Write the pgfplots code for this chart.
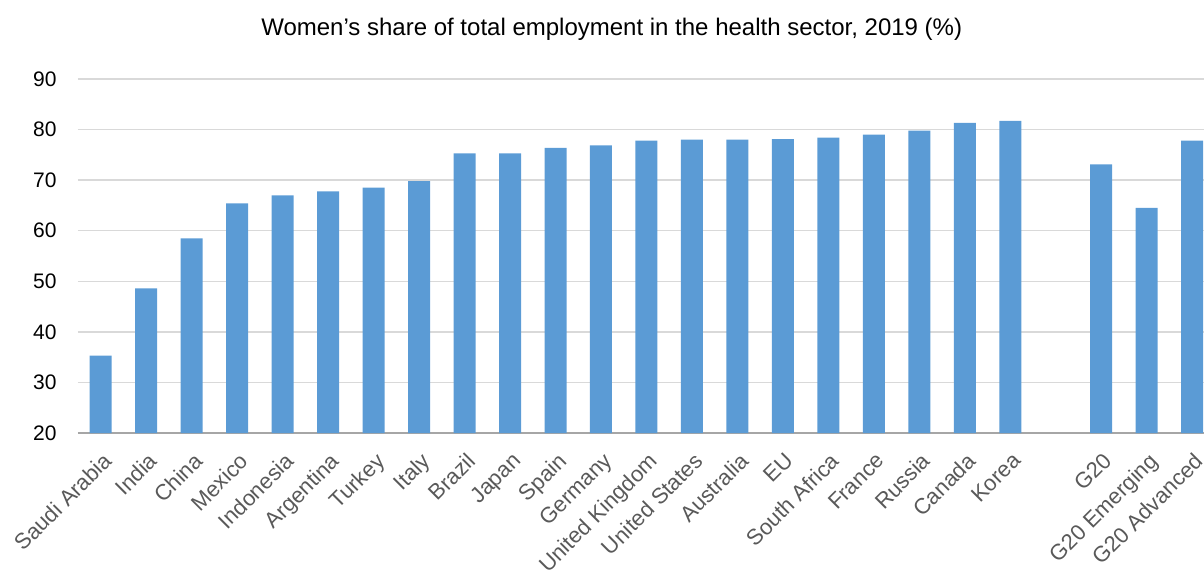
\documentclass[border=0pt]{standalone}
\usepackage{fontspec}
\setmainfont{Liberation Sans}
\usepackage{pgfplots}
\pgfplotsset{compat=1.18}
\definecolor{barblue}{HTML}{5B9BD5}
\definecolor{gridgray}{HTML}{D9D9D9}
\definecolor{labgray}{HTML}{595959}
\definecolor{axgray}{HTML}{A6A6A6}
\begin{document}
\begin{tikzpicture}
\begin{axis}[
  at={(39pt,70pt)}, anchor=south west,
  scale only axis, width=563pt, height=177pt,
  xmin=-0.5, xmax=24.26, ymin=20, ymax=90,
  ytick={20,30,...,90},
  xtick={0,1,...,20,22,23,24},
  xticklabels={Saudi Arabia,India,China,Mexico,Indonesia,Argentina,Turkey,Italy,Brazil,Japan,Spain,Germany,United Kingdom,United States,Australia,EU,South Africa,France,Russia,Canada,Korea,G20,G20 Emerging,G20 Advanced},
  ymajorgrids, grid style={gridgray, line width=0.7pt},
  axis x line*=bottom, axis y line*=left,
  x axis line style={draw=axgray, line width=0.9pt},
  y axis line style={draw=none},
  major tick length=0pt,
  /pgf/number format/assume math mode=true,
  yticklabel style={font=\fontsize{10.5}{12}\selectfont, anchor=east, inner sep=0pt, xshift=-10.5pt, text=black},
  xticklabel style={font=\fontsize{11}{13}\selectfont, anchor=north east, inner sep=0pt, xshift=0.5pt, yshift=-9pt, rotate=45, text=labgray},
  title={Women{\char39}s share of total employment in the health sector, 2019 (\%)},
  title style={at={(0.474,1)}, anchor=center, yshift=19pt, font=\fontsize{12}{14}\selectfont},
  ybar, bar width=11pt,
  clip=false,
]
\addplot[fill=barblue, draw=none] coordinates {
 (0,35.3) (1,48.6) (2,58.5) (3,65.4) (4,67.0) (5,67.8) (6,68.5) (7,69.8)
 (8,75.3) (9,75.3) (10,76.4) (11,76.9) (12,77.8) (13,78.0) (14,78.0) (15,78.1)
 (16,78.4) (17,79.0) (18,79.8) (19,81.3) (20,81.7)
 (22,73.1) (23,64.5) (24,77.8)
};
\end{axis}
\pgfresetboundingbox
\useasboundingbox (0,0) rectangle (602pt,286.5pt);
\end{tikzpicture}
\end{document}
